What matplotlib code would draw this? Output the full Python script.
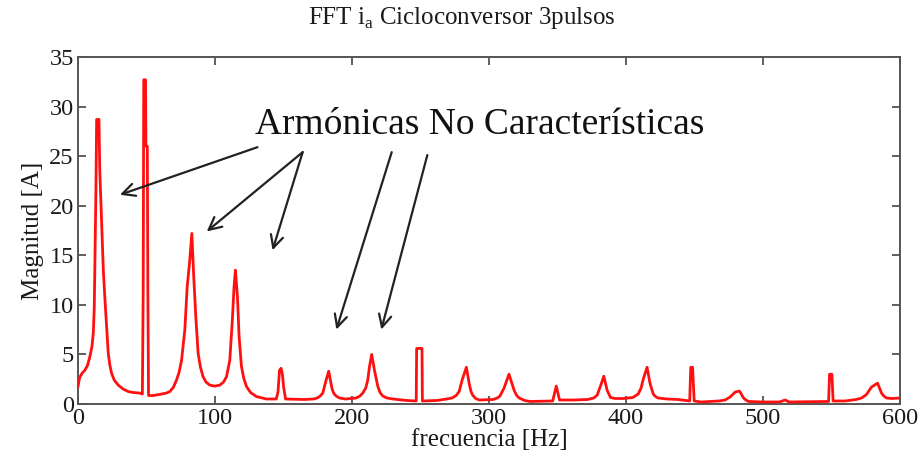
import matplotlib
matplotlib.use("Agg")
import matplotlib.pyplot as plt

# espectro de la corriente de fase a (frecuencia en Hz, magnitud en A)
freq_hz = [
    0, 0.8, 1.5, 3, 5, 7, 8.7, 10.2, 11.2, 11.9, 12.4, 13.1, 13.6, 15.3, 15.9,
    17.2, 18.5, 19.7, 21, 22.1, 23.3, 24.5, 26.5, 29.4, 33, 36.7, 40.5, 45, 47.0,
    47.6, 48.0, 49.3, 49.6, 50.6, 51.0, 51.5,
    55, 61, 64.5, 67, 69.5, 71.9, 73.8, 75.6, 78, 79.7, 81.6, 83.1, 84.5, 86,
    87.7, 89.4, 91.3, 93.5, 96.2, 99.8, 103.5, 106.2, 108.4, 110.8, 112.7,
    113.9, 114.9, 116.4, 117.6, 119.3, 121, 123, 126, 130.2, 137.5,
    144.7, 146, 147.1, 148.3, 149.3, 150, 151.5,
    165, 172, 174.7, 176.8, 178.7, 181.1, 183, 185.5, 186.8, 188.4, 191, 195,
    203, 205.8, 207.9, 210, 211.5, 212.7, 214.4, 216.4, 218.8, 220.5, 222.5,
    225.5, 229.8,
    240, 246.9, 247.2, 251.1, 251.4,
    262, 269, 273, 276, 278.2, 280.6, 283.5, 285.5, 286.8, 288, 290.3, 292.9,
    303, 306, 308, 311, 314.6, 318.3, 320, 322, 326, 330,
    346.5, 349.1, 351.5, 362,
    372, 376.5, 379, 381.4, 383.8, 386.2, 388.7, 392, 398, 405,
    408.9, 411, 412.6, 415.4, 417.5, 419.9, 421.5, 423.5, 430, 438,
    446.5, 447.3, 448.6, 449.8, 455,
    468, 472.4, 476, 479.7, 482.9, 485.8, 487.5, 489.4, 500, 512, 516.2, 519,
    547.9, 548.6, 550.3, 551.2, 560,
    568, 572, 575.5, 579.2, 583.6, 586.5, 588.2, 590.2, 594, 600,
]
mag_a = [
    1.75, 2.4, 2.75, 3.1, 3.4, 3.9, 4.8, 5.8, 7.2, 9.8, 14.9, 21.6, 28.7, 28.7, 23.6,
    18.6, 13.5, 10.5, 7.5, 5.1, 3.9, 3.1, 2.4, 1.9, 1.5, 1.25, 1.15, 1.1, 1.0,
    11.5, 32.7, 32.7, 26.0, 26.0, 11.5, 0.85,
    0.85, 1.0, 1.1, 1.25, 1.65, 2.4, 3.2, 4.4, 7.5, 11.8, 14.5, 17.2, 12.8, 8.8,
    5.1, 3.7, 2.75, 2.2, 1.9, 1.8, 1.9, 2.2, 2.75, 4.4, 8.5,
    11.8, 13.5, 10.8, 6.8, 3.8, 2.6, 1.75, 1.15, 0.75, 0.5,
    0.5, 1.2, 3.4, 3.6, 2.9, 1.8, 0.5,
    0.45, 0.5, 0.6, 0.8, 1.1, 2.4, 3.3, 1.5, 1.05, 0.8, 0.6, 0.5,
    0.6, 0.8, 1.1, 1.6, 2.4, 3.7, 5.0, 3.4, 1.8, 1.15, 0.8,
    0.6, 0.5,
    0.35, 0.3, 5.6, 5.6, 0.3,
    0.35, 0.5, 0.6, 0.85, 1.25, 2.5, 3.7, 2.1, 1.3, 0.9, 0.55, 0.4,
    0.45, 0.6, 0.8, 1.6, 3.0, 1.4, 0.9, 0.6, 0.35, 0.25,
    0.3, 1.8, 0.4, 0.4,
    0.45, 0.6, 0.9, 1.8, 2.8, 1.4, 0.65, 0.55, 0.55, 0.65,
    1.0, 1.6, 2.5, 3.7, 2.1, 1.0, 0.75, 0.6, 0.5, 0.45,
    0.3, 3.7, 3.7, 0.3, 0.2,
    0.3, 0.4, 0.7, 1.2, 1.3, 0.6, 0.4, 0.25, 0.2, 0.2, 0.4, 0.2,
    0.25, 3.0, 3.0, 0.3, 0.3,
    0.45, 0.6, 0.95, 1.7, 2.1, 1.1, 0.8, 0.6, 0.55, 0.6,
]

x_ticks = [0, 100, 200, 300, 400, 500, 600]
y_ticks = [0, 5, 10, 15, 20, 25, 30, 35]

# flechas: (origen junto al texto) -> (punta)
arrow_tails = [(131, 25.9), (164, 25.4), (164, 25.4), (229, 25.4), (255, 25.1)]
arrow_heads = [(30.6, 21.1), (94.0, 17.4), (142.0, 15.5), (188.6, 7.5), (221.4, 7.5)]

plt.rcParams['font.family'] = ['Liberation Serif', 'DejaVu Serif']

fig = plt.figure(figsize=(9.24, 4.67), dpi=100)
ax = fig.add_axes([0.0844, 0.135, 0.8896, 0.743])

ax.plot(freq_hz, mag_a, color='#ff1010', linewidth=2.0, zorder=3)

ax.set_xlim(0, 600)
ax.set_ylim(0, 35)
ax.set_xticks(x_ticks)
ax.set_yticks(y_ticks)
ax.tick_params(direction='in', length=6, width=1.2, colors='#444444',
               labelcolor='#1a1a1a', labelsize=17.5, top=True, right=True, pad=3)
for s in ax.spines.values():
    s.set_color('#555555')
    s.set_linewidth(1.4)

ax.set_xlabel('frecuencia [Hz]', fontsize=18, color='#1a1a1a', labelpad=0)
ax.set_ylabel('Magnitud [A]', fontsize=18, color='#1a1a1a', labelpad=4)
fig.suptitle(r'FFT i$_{\mathregular{a}}$ Cicloconversor 3pulsos', fontsize=18,
             color='#1a1a1a', y=0.99)

ax.text(293.5, 28.2, 'Armónicas No Características', fontsize=27,
        color='#111111', ha='center', va='center')
for tail, head in zip(arrow_tails, arrow_heads):
    ax.annotate('', xy=head, xytext=tail,
                arrowprops=dict(arrowstyle='->,head_length=0.9,head_width=0.45',
                                color='#222222', lw=1.6, shrinkA=0, shrinkB=0))

fig.savefig('out.png', dpi=100)
